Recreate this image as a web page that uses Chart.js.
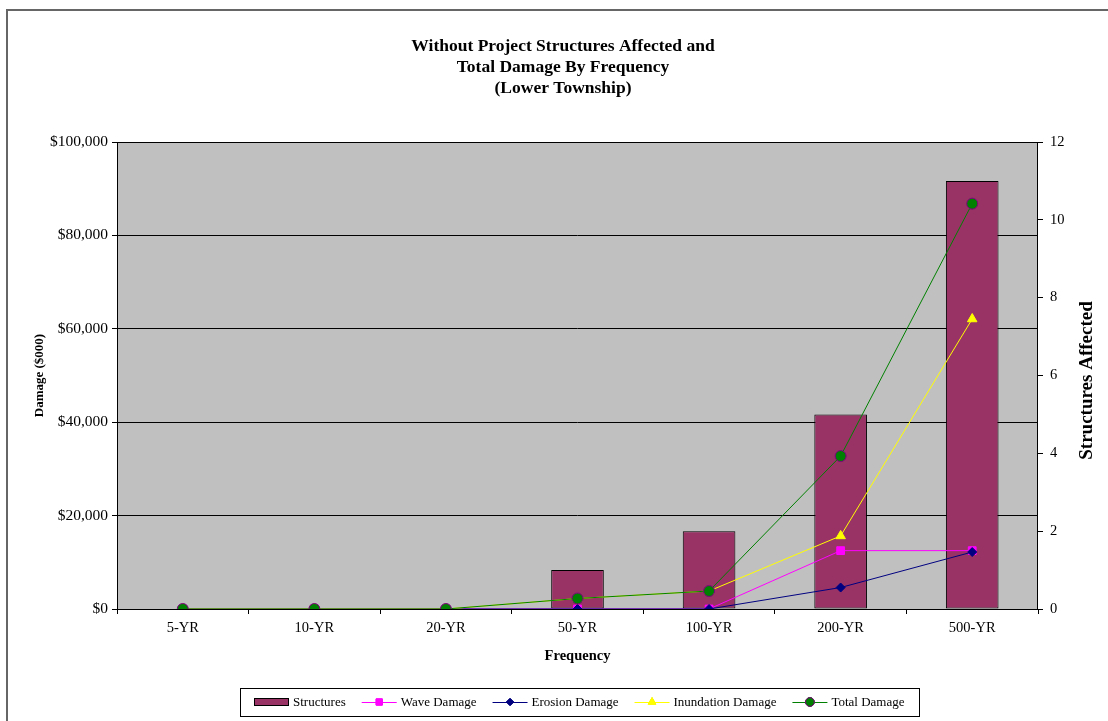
<!DOCTYPE html>
<html>
<head>
<meta charset="utf-8">
<title>Structures Affected and Total Damage By Frequency</title>
<script src="https://cdn.jsdelivr.net/npm/chart.js@4/dist/chart.umd.min.js"></script>
<style>
  html, body { margin: 0; padding: 0; background: #fff; }
  #wrap { width: 1108px; height: 721px; }
</style>
</head>
<body>
<div id="wrap"><canvas id="damageChart" width="1108" height="721"></canvas></div>
<script>
// Storm frequencies and results for Lower Township, without project
const frequencies = ['5-YR', '10-YR', '20-YR', '50-YR', '100-YR', '200-YR', '500-YR'];
const structures = [0, 0, 0, 1, 2, 5, 11];
const waveDamage = [0, 0, 0, 0, 0, 12500, 12500];
const erosionDamage = [0, 0, 0, 0, 0, 4600, 12200];
const inundationDamage = [0, 0, 0, 2250, 3850, 15650, 62100];
const totalDamage = [0, 0, 0, 2250, 3850, 32750, 86800];

const damageTicks = [0, 20000, 40000, 60000, 80000, 100000];
const structureTicks = [0, 2, 4, 6, 8, 10, 12];

const SERIF = '"Liberation Serif", "Times New Roman", serif';

// Excel-style grey plot area, frame and outer chart border
const plotFrame = {
    id: 'plotFrame',
    beforeDraw(chart) {
        const { ctx, chartArea: a } = chart;
        ctx.save();
        ctx.fillStyle = '#fff';
        ctx.fillRect(0, 0, chart.width, chart.height);
        ctx.fillStyle = '#c0c0c0';
        ctx.fillRect(a.left, a.top, a.right - a.left, a.bottom - a.top);
        ctx.strokeStyle = '#666';
        ctx.lineWidth = 2;
        ctx.beginPath();
        ctx.moveTo(7, chart.height);
        ctx.lineTo(7, 10);
        ctx.lineTo(chart.width, 10);
        ctx.stroke();
        ctx.restore();
    },
    beforeDatasetsDraw(chart) {
        const { ctx, chartArea: a } = chart;
        ctx.save();
        ctx.strokeStyle = '#000';
        ctx.lineWidth = 1;
        ctx.strokeRect(a.left + 0.5, a.top + 0.5, a.right - a.left - 1, a.bottom - a.top);
        ctx.restore();
    }
};

// right axis title reads bottom to top, and the boxed legend underneath
const extras = {
    id: 'extras',
    afterDraw(chart) {
        const { ctx, chartArea: a } = chart;
        ctx.save();
        ctx.fillStyle = '#000';
        ctx.font = 'bold 19px ' + SERIF;
        ctx.textAlign = 'center';
        ctx.textBaseline = 'middle';
        ctx.translate(1087, (a.top + a.bottom) / 2 + 5);
        ctx.rotate(-Math.PI / 2);
        ctx.fillText('Structures Affected', 0, 0);
        ctx.restore();

        const order = [4, 0, 1, 2, 3];
        const ds = chart.data.datasets;
        ctx.save();
        ctx.font = '13px ' + SERIF;
        const symW = 35, gap = 4, after = 16;
        const widths = order.map(i => symW + gap + ctx.measureText(ds[i].label).width + after);
        const total = widths.reduce((s, w) => s + w, 0) - after;
        const boxL = 240, boxR = 919, boxT = 688, boxB = 716;
        const cy = (boxT + boxB) / 2;
        let x = Math.round((boxL + boxR) / 2 - total / 2);
        ctx.strokeStyle = '#000';
        ctx.lineWidth = 1;
        ctx.strokeRect(boxL + 0.5, boxT + 0.5, boxR - boxL, boxB - boxT);
        order.forEach((i, k) => {
            const d = ds[i];
            if (d.type === 'bar') {
                ctx.fillStyle = d.backgroundColor;
                ctx.fillRect(x, cy - 4, symW, 8);
                ctx.strokeStyle = '#000';
                ctx.strokeRect(x + 0.5, cy - 3.5, symW - 1, 7);
            } else {
                ctx.strokeStyle = d.borderColor;
                ctx.lineWidth = 1;
                ctx.beginPath();
                ctx.moveTo(x, cy + 0.5);
                ctx.lineTo(x + symW, cy + 0.5);
                ctx.stroke();
                Chart.helpers.drawPoint(ctx, {
                    pointStyle: d.pointStyle,
                    radius: d.pointRadius * 0.8,
                    rotation: 0,
                    borderWidth: 1
                }, x + symW / 2, cy);
                ctx.fillStyle = d.pointBackgroundColor;
                ctx.strokeStyle = d.pointBorderColor;
                ctx.fill();
                ctx.stroke();
            }
            ctx.fillStyle = '#000';
            ctx.textAlign = 'left';
            ctx.textBaseline = 'middle';
            ctx.fillText(d.label, x + symW + gap, cy + 1);
            x += widths[k];
        });
        ctx.restore();
    }
};

function lineSeries(label, data, color, style, radius, border, order) {
    return {
        type: 'line',
        label: label,
        data: data,
        yAxisID: 'y',
        borderColor: color,
        borderWidth: 1,
        pointStyle: style,
        pointRadius: radius,
        pointHoverRadius: radius,
        pointBackgroundColor: color,
        pointBorderColor: border || color,
        pointBorderWidth: 1,
        tension: 0,
        order: order
    };
}

const ctx = document.getElementById('damageChart').getContext('2d');

new Chart(ctx, {
    data: {
        labels: frequencies,
        datasets: [
            lineSeries('Wave Damage', waveDamage, '#ff00ff', 'rect', 5.5, null, 3),
            lineSeries('Erosion Damage', erosionDamage, '#000080', 'rectRot', 4.5, null, 2),
            lineSeries('Inundation Damage', inundationDamage, '#ffff00', 'triangle', 5.5, null, 1),
            lineSeries('Total Damage', totalDamage, '#008000', 'circle', 5.5, '#800080', 0),
            {
                type: 'bar',
                label: 'Structures',
                data: structures,
                yAxisID: 'y1',
                backgroundColor: '#993366',
                borderColor: '#000',
                borderWidth: 1,
                borderSkipped: false,
                categoryPercentage: 1,
                barPercentage: 0.4,
                order: 4
            }
        ]
    },
    options: {
        responsive: false,
        devicePixelRatio: 1,
        animation: false,
        events: [],
        layout: { padding: { left: 18, right: 0, top: 0, bottom: 52 } },
        plugins: {
            legend: { display: false },
            tooltip: { enabled: false },
            title: {
                display: true,
                text: [
                    'Without Project Structures Affected and',
                    'Total Damage By Frequency',
                    '(Lower Township)'
                ],
                color: '#000',
                font: { family: SERIF, size: 17.5, weight: 'bold', lineHeight: 1.2 },
                padding: { top: 36, bottom: 43 }
            }
        },
        scales: {
            x: {
                offset: true,
                border: { display: false },
                grid: {
                    offset: true,
                    drawOnChartArea: false,
                    drawTicks: true,
                    tickLength: 5,
                    color: '#000'
                },
                ticks: { color: '#000', padding: 5, font: { family: SERIF, size: 14.5 } },
                title: {
                    display: true,
                    text: 'Frequency',
                    color: '#000',
                    font: { family: SERIF, size: 14.5, weight: 'bold' },
                    padding: { top: 4, bottom: 4 }
                },
                afterFit(scale) { scale.height = 60; }
            },
            y: {
                position: 'left',
                min: damageTicks[0],
                max: damageTicks[damageTicks.length - 1],
                border: { display: false },
                grid: { color: '#000', tickLength: 5 },
                afterBuildTicks(scale) { scale.ticks = damageTicks.map(v => ({ value: v })); },
                ticks: {
                    color: '#000',
                    padding: 4,
                    font: { family: SERIF, size: 15.5 },
                    callback: v => '$' + v.toLocaleString('en-US')
                },
                title: {
                    display: true,
                    text: 'Damage ($000)',
                    color: '#000',
                    font: { family: SERIF, size: 13, weight: 'bold' },
                    padding: { top: 14, bottom: 4 }
                },
                afterFit(scale) { scale.width = 99; }
            },
            y1: {
                position: 'right',
                min: structureTicks[0],
                max: structureTicks[structureTicks.length - 1],
                border: { display: false },
                grid: { drawOnChartArea: false, color: '#000', tickLength: 5 },
                afterBuildTicks(scale) { scale.ticks = structureTicks.map(v => ({ value: v })); },
                ticks: { color: '#000', padding: 7, font: { family: SERIF, size: 14.5 } },
                afterFit(scale) { scale.width = 70; }
            }
        }
    },
    plugins: [plotFrame, extras]
});
</script>
</body>
</html>
